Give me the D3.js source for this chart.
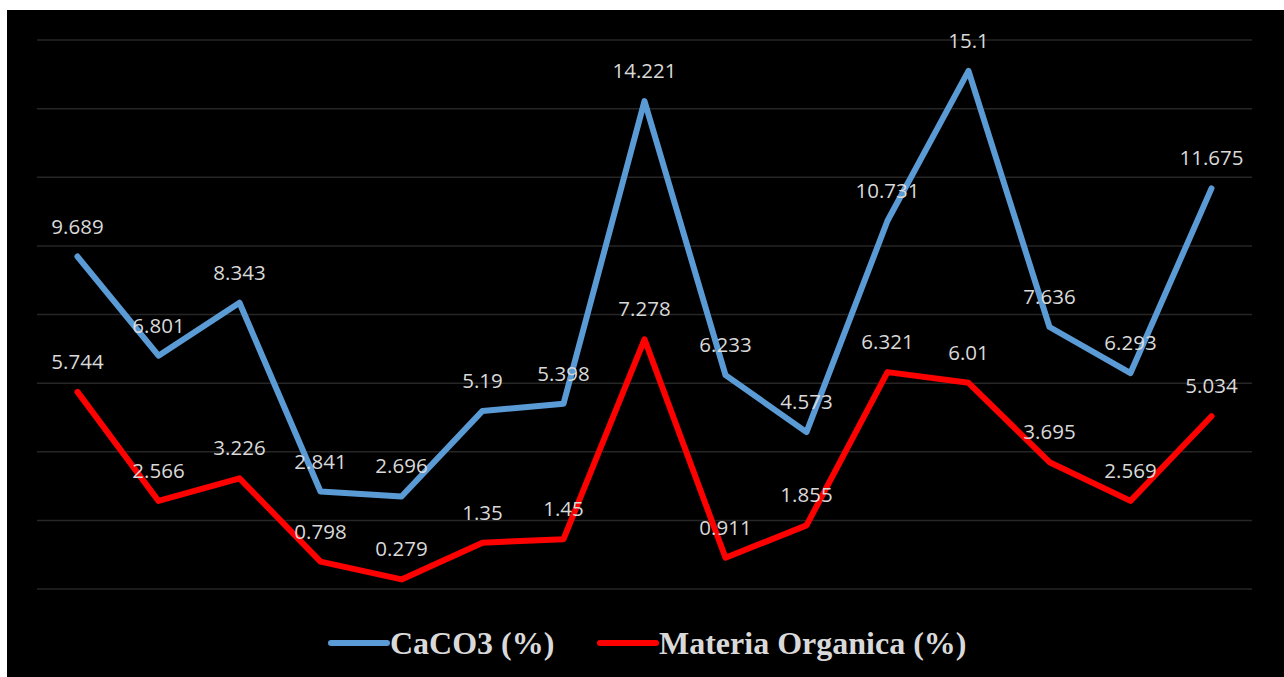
<!DOCTYPE html>
<html lang="en">
<head>
<meta charset="utf-8">
<title>CaCO3 y Materia Organica</title>
<script src="https://cdn.jsdelivr.net/npm/d3@7"></script>
<style>
  body { margin: 0; background: #fff; }
</style>
</head>
<body>
<script>
// data
var caco3 = [9.689, 6.801, 8.343, 2.841, 2.696, 5.19, 5.398, 14.221, 6.233, 4.573, 10.731, 15.1, 7.636, 6.293, 11.675];
var materia = [5.744, 2.566, 3.226, 0.798, 0.279, 1.35, 1.45, 7.278, 0.911, 1.855, 6.321, 6.01, 3.695, 2.569, 5.034];
var yTicks = [0, 2, 4, 6, 8, 10, 12, 14, 16];
var seriesNames = ["CaCO3 (%)", "Materia Organica (%)"];
var seriesColors = ["#5b9bd5", "#ff0000"];

var w = 1284, h = 677;
var svg = d3.select("body").append("svg")
  .attr("width", w)
  .attr("height", h);

// black chart area
svg.append("rect")
  .attr("x", 7).attr("y", 10)
  .attr("width", w - 7).attr("height", h - 10)
  .attr("fill", "#000");

var left = 37, right = 1252;
var x = d3.scaleBand()
  .domain(d3.range(caco3.length))
  .range([left, right]);
var y = d3.scaleLinear()
  .domain([0, 16])
  .range([589, 40]);

// gridlines
svg.append("g").selectAll("line")
  .data(yTicks)
  .enter()
  .append("line")
  .attr("x1", left).attr("x2", right)
  .attr("y1", function(d) { return y(d); })
  .attr("y2", function(d) { return y(d); })
  .attr("stroke", "#262626")
  .attr("stroke-width", 1.5);

var cx = function(d, i) { return x(i) + x.bandwidth() / 2; };

var line = d3.line()
  .x(function(d, i) { return cx(d, i); })
  .y(function(d) { return y(d); });

[caco3, materia].forEach(function(s, k) {
  svg.append("path")
    .datum(s)
    .attr("d", line)
    .attr("fill", "none")
    .attr("stroke", seriesColors[k])
    .attr("stroke-width", 6)
    .attr("stroke-linejoin", "round")
    .attr("stroke-linecap", "round");
});

// data labels
[caco3, materia].forEach(function(s) {
  svg.append("g").selectAll("text")
    .data(s)
    .enter()
    .append("text")
    .attr("x", cx)
    .attr("y", function(d) { return y(d) - 31; })
    .attr("text-anchor", "middle")
    .attr("dominant-baseline", "central")
    .attr("fill", "#d9d9d9")
    .attr("font-family", "'Open Sans', sans-serif")
    .attr("font-size", 20.5)
    .text(function(d) { return d; });
});

// legend
var legend = svg.append("g");
var legendPos = [331, 600];
seriesNames.forEach(function(name, k) {
  legend.append("line")
    .attr("x1", legendPos[k]).attr("x2", legendPos[k] + 56)
    .attr("y1", 643).attr("y2", 643)
    .attr("stroke", seriesColors[k])
    .attr("stroke-width", 6)
    .attr("stroke-linecap", "round");
  legend.append("text")
    .attr("x", legendPos[k] + 59)
    .attr("y", 643)
    .attr("dominant-baseline", "central")
    .attr("fill", "#d9d9d9")
    .attr("font-family", "'Liberation Serif', 'Times New Roman', serif")
    .attr("font-weight", "bold")
    .attr("font-size", 32)
    .text(name);
});
</script>
</body>
</html>
